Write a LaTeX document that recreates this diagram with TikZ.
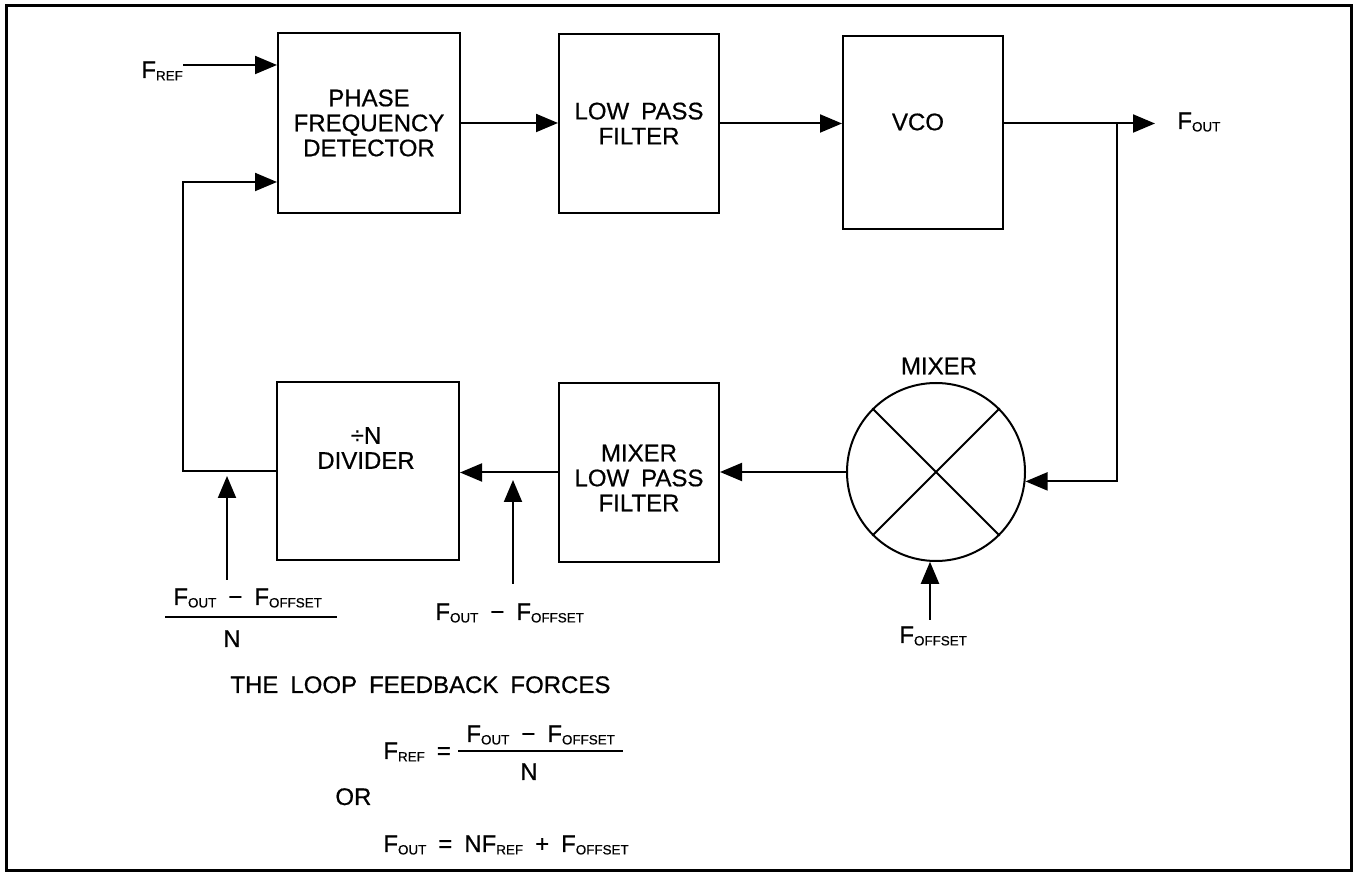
\documentclass[tikz,border=0pt]{standalone}
\usepackage{fontspec}
\setmainfont{Liberation Sans}[FakeBold=0.6]
\newfontfamily\medfont{Liberation Sans}[FakeBold=0.6]
\usetikzlibrary{arrows.meta}
\newcommand{\sbs}[1]{\raisebox{-1.2pt}{\fontsize{6.7}{6.7}\selectfont #1}}
\newcommand{\dfont}{\medfont\fontsize{12}{12.5}\selectfont\spaceskip=0.5em\relax}
\begin{document}
\begin{tikzpicture}[x=0.5pt,y=-0.5pt,
  box/.style={draw, line width=1pt, inner sep=0pt, align=center, font=\dfont},
  lbl/.style={inner sep=0pt, font=\dfont, align=center},
  conn/.style={line width=1pt},
  arr/.style={line width=1pt, -{Triangle[length=11pt,width=9pt]}},
]
\useasboundingbox (0,0) rectangle (1356,876);
\draw[line width=1.5pt] (6,6) rectangle (1351,871);

% blocks
\node[box, minimum width=91pt, minimum height=90pt] (pfd) at (369,123) {PHASE\\FREQUENCY\\DETECTOR};
\node[box, minimum width=80pt, minimum height=89.5pt] (lpf) at (639,123.5) {LOW PASS\\FILTER};
\node[box, minimum width=80pt, minimum height=96.5pt] (vco) at (923,132.5) {};
\node[lbl] (vcot) at (918,122) {VCO};
\node[box, minimum width=91pt, minimum height=89pt] (div) at (368,471) {};
\node[lbl] (divt) at (366,448) {÷N\\DIVIDER};
\node[box, minimum width=80pt, minimum height=89.5pt] (mlpf) at (639,472.5) {};
\node[lbl] (mlpft) at (639,478) {MIXER\\LOW PASS\\FILTER};
\node[draw, circle, line width=1pt, minimum size=89pt, inner sep=0pt] (mix) at (936,472) {};
\draw[line width=1pt] (mix.45) -- (mix.225) (mix.135) -- (mix.315);
\node[lbl] (mixt) at (939,366) {MIXER};

% signal labels
\node[lbl, anchor=base west] (fref) at (141,78) {F\sbs{REF}};
\node[lbl, anchor=base west] (fout) at (1177,129) {F\sbs{OUT}};
\node[lbl, anchor=base west] (foff) at (899,643) {F\sbs{OFFSET}};
\node[lbl, anchor=base west] (lnum) at (173,605) {F\sbs{OUT} − F\sbs{OFFSET}};
\draw[line width=1pt] (165,617) -- (337,617);
\node[lbl, anchor=base] (lden) at (232,647) {N};
\node[lbl, anchor=base west] (mid) at (435,620) {F\sbs{OUT} − F\sbs{OFFSET}};

% equations
\node[lbl, anchor=base west] (loop) at (230,693) {THE LOOP FEEDBACK FORCES};
\node[lbl, anchor=base west] (eqa) at (383,759) {F\sbs{REF} =};
\node[lbl, anchor=base west] (eqn) at (466,742) {F\sbs{OUT} − F\sbs{OFFSET}};
\draw[line width=1pt] (458,751) -- (623,751);
\node[lbl, anchor=base] (eqd) at (529,780) {N};
\node[lbl, anchor=base west] (orl) at (335,805) {OR};
\node[lbl, anchor=base west] (eqb) at (383,852) {F\sbs{OUT} = NF\sbs{REF} + F\sbs{OFFSET}};

% connectors
\coordinate (frefs) at (183,65);
\draw[arr] (frefs) -- (frefs -| pfd.west);
\draw[arr] (pfd.east) -- (pfd.east -| lpf.west);
\draw[arr] (lpf.east) -- (lpf.east -| vco.west);
\coordinate (tap) at (1117,123.5);
\coordinate (foutt) at (1155,123.5);
\draw[arr] (tap -| vco.east) -- (foutt);
\draw[arr] (tap) |- (mix.-6.4);
\draw[arr] (mix.west) -- (mix.west -| mlpf.east);
\draw[arr] (mlpf.west) -- (mlpf.west -| div.east);
\coordinate (fbc) at (183,182);
\draw[arr] (div.west) -| (fbc) -- (fbc -| pfd.west);
\coordinate (offs) at (930,620);
\draw[arr] (offs) -- (offs |- mix.266);
\coordinate (ua1) at (227,580);
\coordinate (ua1t) at (227,476);
\draw[arr] (ua1) -- (ua1t);
\coordinate (ua2) at (513,584);
\coordinate (ua2t) at (513,480);
\draw[arr] (ua2) -- (ua2t);
\end{tikzpicture}
\end{document}
